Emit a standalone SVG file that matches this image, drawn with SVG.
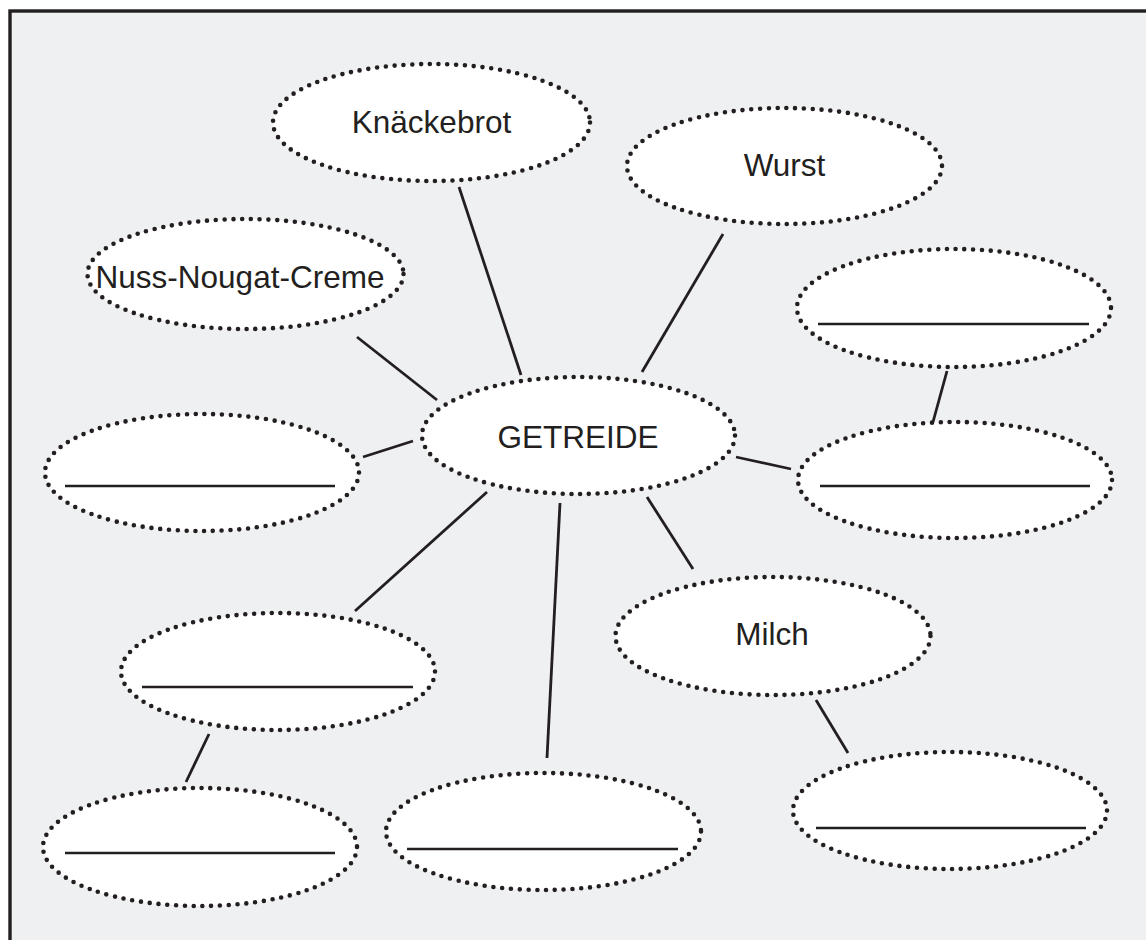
<svg xmlns="http://www.w3.org/2000/svg" width="1146" height="940" viewBox="0 0 1146 940">
<style>
.node ellipse{fill:#ffffff;stroke:#231f20;stroke-width:4.6;stroke-dasharray:0 8.8;stroke-linecap:round}
.lbl{font-family:"Liberation Sans",Arial,sans-serif;font-size:31.5px;fill:#231f20;text-anchor:middle}
.blank{stroke:#231f20;stroke-width:2.4}
#connectors line{stroke:#231f20;stroke-width:2.8}
</style>
<rect x="0" y="0" width="1146" height="940" fill="#ffffff"/>
<rect x="10" y="11" width="1150" height="940" fill="#eff0f2" stroke="#231f20" stroke-width="3.4"/>
<g id="connectors">
<line x1="459" y1="187" x2="521" y2="375"/>
<line x1="723" y1="234" x2="642" y2="372"/>
<line x1="357" y1="337" x2="437" y2="400"/>
<line x1="363" y1="457" x2="413" y2="441"/>
<line x1="736" y1="457" x2="791" y2="469"/>
<line x1="947" y1="371" x2="933" y2="422"/>
<line x1="487" y1="492" x2="355" y2="611"/>
<line x1="560" y1="503" x2="547" y2="758"/>
<line x1="647" y1="497" x2="693" y2="569"/>
<line x1="816" y1="700" x2="848" y2="753"/>
<line x1="209" y1="734" x2="186" y2="782"/>
</g>
<g id="knaeckebrot" class="node"><ellipse cx="431.5" cy="122.5" rx="158.5" ry="58.5"/><text class="lbl" x="431.5" y="133">Knäckebrot</text></g>
<g id="wurst" class="node"><ellipse cx="784.5" cy="166" rx="157.5" ry="58"/><text class="lbl" x="784.5" y="176">Wurst</text></g>
<g id="nuss" class="node"><ellipse cx="245.5" cy="274" rx="158" ry="55"/><text class="lbl" x="240" y="288">Nuss-Nougat-Creme</text></g>
<g id="getreide" class="node"><ellipse cx="578.5" cy="435.5" rx="156.5" ry="58.5"/><text class="lbl" x="578" y="448">GETREIDE</text></g>
<g id="blank-left" class="node"><ellipse cx="202" cy="472.5" rx="157" ry="58.5"/><line class="blank" x1="65" y1="486" x2="335" y2="486"/></g>
<g id="blank-topright" class="node"><ellipse cx="954" cy="308" rx="157" ry="59"/><line class="blank" x1="818" y1="324" x2="1089" y2="324"/></g>
<g id="blank-right" class="node"><ellipse cx="955" cy="480" rx="157" ry="58"/><line class="blank" x1="820" y1="486" x2="1090" y2="486"/></g>
<g id="blank-lowerleft" class="node"><ellipse cx="278" cy="671.5" rx="157" ry="58.5"/><line class="blank" x1="142" y1="687" x2="413" y2="687"/></g>
<g id="blank-bottomleft" class="node"><ellipse cx="200" cy="847" rx="157" ry="59"/><line class="blank" x1="65" y1="853" x2="335" y2="853"/></g>
<g id="blank-bottommid" class="node"><ellipse cx="543.5" cy="831.5" rx="157.5" ry="58.5"/><line class="blank" x1="407" y1="849" x2="678" y2="849"/></g>
<g id="milch" class="node"><ellipse cx="773" cy="636" rx="157.5" ry="59"/><text class="lbl" x="772" y="645">Milch</text></g>
<g id="blank-bottomright" class="node"><ellipse cx="950" cy="810.5" rx="157" ry="58.5"/><line class="blank" x1="816" y1="828" x2="1086" y2="828"/></g>
</svg>
